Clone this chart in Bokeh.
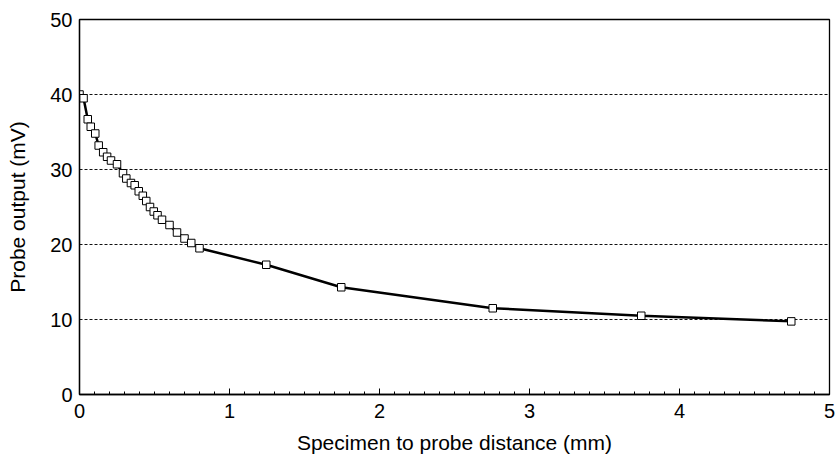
from bokeh.plotting import figure
from bokeh.models import Range1d, FixedTicker
from bokeh.embed import file_html
from bokeh.resources import INLINE

distance_mm = [0.0, 0.027, 0.055, 0.075, 0.105, 0.128, 0.158, 0.184, 0.21, 0.25,
               0.29, 0.312, 0.343, 0.368, 0.395, 0.422, 0.445, 0.47, 0.495, 0.52,
               0.55, 0.6, 0.65, 0.7, 0.745, 0.8, 1.245, 1.745, 2.755, 3.745, 4.745]
output_mv = [40.0, 39.5, 36.7, 35.7, 34.8, 33.2, 32.3, 31.7, 31.2, 30.7,
             29.5, 28.8, 28.2, 27.9, 27.1, 26.5, 25.8, 25.0, 24.4, 23.9,
             23.3, 22.6, 21.6, 20.8, 20.2, 19.5, 17.3, 14.3, 11.5, 10.5, 9.75]
x_ticks = [0, 1, 2, 3, 4, 5]
y_ticks = [0, 10, 20, 30, 40, 50]
x_label = "Specimen to probe distance (mm)"
y_label = "Probe output (mV)"

FONT = "Liberation Sans"

p = figure(width=835, height=456, output_backend="svg", toolbar_location=None,
           x_range=Range1d(0, 5), y_range=Range1d(0, 50),
           min_border_left=79, min_border_right=6, min_border_top=19,
           min_border_bottom=61)

p.outline_line_color = "black"
p.outline_line_width = 1.3
p.background_fill_color = "white"
p.border_fill_color = "white"

p.xgrid.visible = False
p.ygrid.ticker = FixedTicker(ticks=[10, 20, 30, 40])
p.ygrid.grid_line_color = "#111111"
p.ygrid.grid_line_dash = "3 2"
p.ygrid.grid_line_width = 1

p.xaxis.ticker = FixedTicker(ticks=x_ticks,
                             minor_ticks=[i / 10 for i in range(0, 51)])
p.yaxis.ticker = FixedTicker(ticks=y_ticks)

for ax in (p.xaxis[0], p.yaxis[0]):
    ax.axis_line_color = "black"
    ax.axis_line_width = 1.3
    ax.major_tick_in = 6
    ax.major_tick_out = 0
    ax.major_tick_line_color = "black"
    ax.major_label_text_font = FONT
    ax.major_label_text_font_size = "20px"
    ax.major_label_text_color = "black"
    ax.axis_label_text_font = FONT
    ax.axis_label_text_font_size = "21px"
    ax.axis_label_text_font_style = "normal"
    ax.axis_label_text_color = "black"

p.xaxis.major_label_standoff = 9
p.yaxis.major_label_standoff = 7
p.xaxis.minor_tick_in = 3
p.xaxis.minor_tick_out = 0
p.xaxis.minor_tick_line_color = "black"
p.yaxis.minor_tick_line_color = None
p.yaxis.major_tick_line_color = None
p.xaxis.axis_label = x_label
p.yaxis.axis_label = y_label
p.xaxis.axis_label_standoff = 10
p.yaxis.axis_label_standoff = 18

p.line(distance_mm, output_mv, line_color="black", line_width=2.5)
p.scatter(distance_mm, output_mv, marker="square", size=7.5,
          fill_color="white", line_color="black", line_width=1)

open("out.html", "w").write(file_html(p, INLINE))
